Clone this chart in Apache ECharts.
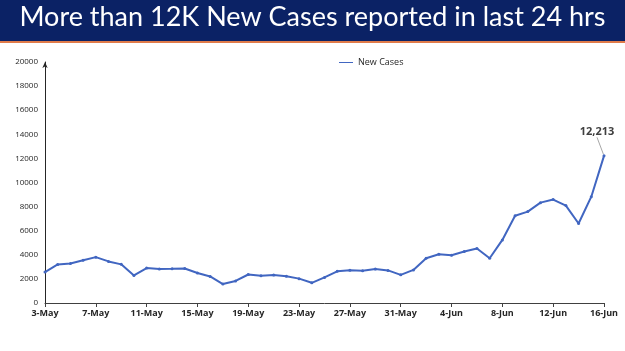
<!DOCTYPE html>
<html>
<head>
<meta charset="utf-8">
<script src="https://cdn.jsdelivr.net/npm/echarts@6/dist/echarts.min.js"></script>
<style>html,body{margin:0;padding:0;background:#fff}#c{width:625px;height:351px}</style>
</head>
<body>
<div id="c"></div>
<script>
const titleText = 'More than 12K New Cases reported in last 24 hrs';
const seriesName = 'New Cases';
const dates = ['3-May','4-May','5-May','6-May','7-May','8-May','9-May','10-May','11-May','12-May','13-May','14-May','15-May','16-May','17-May','18-May','19-May','20-May','21-May','22-May','23-May','24-May','25-May','26-May','27-May','28-May','29-May','30-May','31-May','1-Jun','2-Jun','3-Jun','4-Jun','5-Jun','6-Jun','7-Jun','8-Jun','9-Jun','10-Jun','11-Jun','12-Jun','13-Jun','14-Jun','15-Jun','16-Jun'];
const newCases = [2568,3205,3275,3545,3805,3451,3207,2288,2897,2827,2841,2858,2487,2202,1569,1829,2364,2259,2323,2226,2022,1675,2124,2628,2710,2685,2828,2706,2338,2745,3712,4041,3962,4270,4518,3714,5233,7240,7584,8329,8582,8084,6594,8822,12213];
const yTicks = {min:0, max:20000, interval:2000};

const chart = echarts.init(document.getElementById('c'));
const data = newCases.map((v,i)=> i===newCases.length-1 ? {
  value:v,
  label:{show:true, position:'top', formatter:p=>p.value.toLocaleString('en-US'), fontFamily:'Open Sans', fontWeight:'bold', fontSize:11, color:'#404040'},
  labelLine:{show:true, lineStyle:{color:'#a6a6a6', width:1}}
} : v);
chart.setOption({
  animation:false,
  graphic:[
    {type:'rect', shape:{x:0,y:0,width:625,height:41}, style:{fill:'#0b2265'}},
    {type:'rect', shape:{x:0,y:41,width:625,height:2}, style:{fill:'#e07b4a'}},
    {type:'text', left:'center', top:4, style:{text:titleText, fill:'#ffffff', font:'27px Lato, "Open Sans", sans-serif'}}
  ],
  legend:{top:53, left:334, itemWidth:14, itemHeight:6, icon:'path://M0,2 L14,2 L14,3 L0,3 Z', textStyle:{fontFamily:'Open Sans', fontSize:9, color:'#262626'}, itemGap:2, data:[seriesName]},
  grid:{left:45, right:21, top:62, bottom:48},
  xAxis:{type:'category', data:dates, boundaryGap:false,
    axisLine:{lineStyle:{color:'#404040', width:1}},
    axisTick:{interval:3, length:4, lineStyle:{color:'#404040'}},
    axisLabel:{interval:3, color:'#262626', fontFamily:'Open Sans', fontWeight:'bold', fontSize:9, margin:6}},
  yAxis:{type:'value', min:yTicks.min, max:yTicks.max, interval:yTicks.interval,
    axisLine:{show:true, symbol:['none','arrow'], symbolSize:[4,6], lineStyle:{color:'#262626', width:1}},
    axisTick:{show:false}, splitLine:{show:false},
    axisLabel:{color:'#262626', fontFamily:'Open Sans', fontSize:8, margin:7, formatter:v=>String(v)}},
  series:[{name:seriesName, type:'line', data:data, symbol:'circle', symbolSize:3,
    lineStyle:{color:'#4166c1', width:2}, itemStyle:{color:'#4166c1'},
    labelLayout:{dx:-7, dy:-12}}]
});
</script>
</body>
</html>
